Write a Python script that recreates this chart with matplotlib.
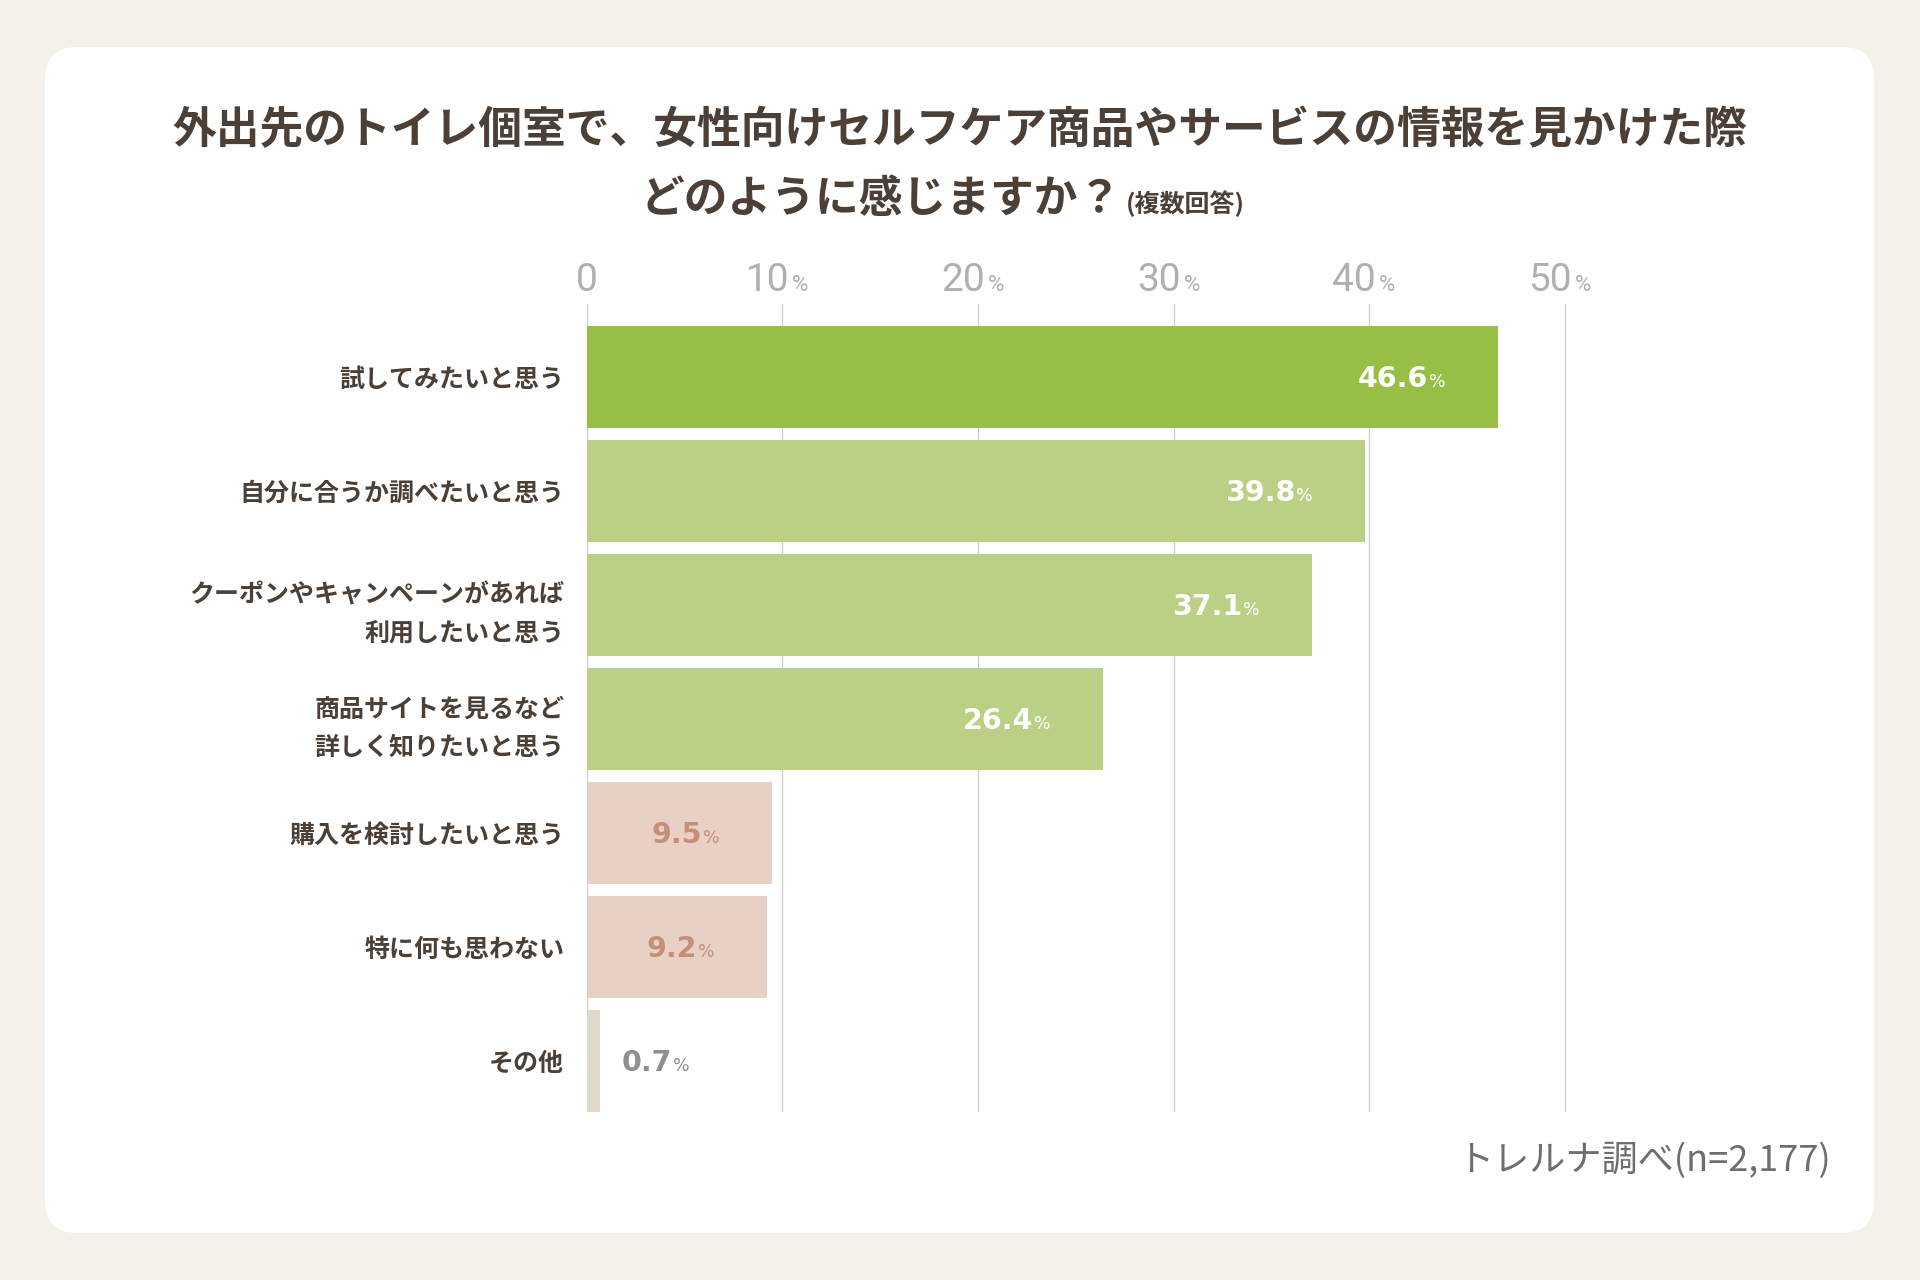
import matplotlib
matplotlib.use('Agg')
import matplotlib.pyplot as plt
from matplotlib.patches import FancyBboxPatch
from matplotlib import transforms

plt.rcParams['font.family'] = ['Noto Sans CJK JP', 'DejaVu Sans']

# ---- data ----
categories = [
    "試してみたいと思う",
    "自分に合うか調べたいと思う",
    "クーポンやキャンペーンがあれば\n利用したいと思う",
    "商品サイトを見るなど\n詳しく知りたいと思う",
    "購入を検討したいと思う",
    "特に何も思わない",
    "その他",
]
values = [46.6, 39.8, 37.1, 26.4, 9.5, 9.2, 0.7]
bar_colors = ['#98bf45', '#bad185', '#bad185', '#bad185', '#e9d0c5', '#e9d0c5', '#e1dacb']
label_colors = ['white', 'white', 'white', 'white', '#c48f78', '#c48f78', '#8f8f8f']
x_ticks = [0, 10, 20, 30, 40, 50]
x_tick_labels = ['0', '10', '20', '30', '40', '50']
title_line1 = "外出先のトイレ個室で、女性向けセルフケア商品やサービスの情報を見かけた際"
title_line2 = "どのように感じますか？"
title_note = "(複数回答)"
source_text = "トレルナ調べ(n=2,177)"

DARK = '#4b3f36'
W, H = 1920, 1280

fig = plt.figure(figsize=(19.2, 12.8), dpi=100)
fig.patch.set_facecolor('#f6f0ea')

# background / layout axes in pixel coordinates
bg = fig.add_axes([0, 0, 1, 1])
bg.set_xlim(0, W)
bg.set_ylim(H, 0)
bg.axis('off')
card = FancyBboxPatch((45, 47), 1829, 1186, boxstyle='round,pad=0,rounding_size=32',
                      fc='white', ec='none')
bg.add_patch(card)

bg.text(960, 130, title_line1, ha='center', va='center', fontsize=31.5,
        fontweight='bold', color=DARK)
bg.text(1122, 212, title_line2, ha='right', va='baseline', fontsize=31.5,
        fontweight='bold', color=DARK)
bg.text(1126, 212, title_note, ha='left', va='baseline', fontsize=18,
        fontweight='bold', color=DARK)
bg.text(1831, 1161, source_text, ha='right', va='center', fontsize=26,
        color='#6e6e6e')

# chart axes
ax = fig.add_axes([586.5 / W, 1 - 1112 / H, 998 / W, 808 / H])
ax.set_facecolor('none')
ax.set_xlim(0, 51)
ax.set_ylim(6.447, -0.640)
ypos = list(range(len(categories)))
ax.barh(ypos, values, height=0.895, color=bar_colors, zorder=2)
ax.set_xticks(x_ticks)
ax.grid(axis='x', color='#cccccc', lw=0.9, zorder=0)
ax.set_axisbelow(True)
ax.tick_params(axis='x', length=0, labelbottom=False)
ax.set_yticks(ypos, categories)
ax.tick_params(axis='y', length=0, pad=16)
for lbl in ax.get_yticklabels():
    lbl.set_fontsize(18)
    lbl.set_fontweight('bold')
    lbl.set_color(DARK)
    lbl.set_linespacing(1.75)
for s in ax.spines.values():
    s.set_visible(False)

# top tick labels
trans = transforms.blended_transform_factory(ax.transData, ax.transAxes)
tick_font = dict(family=['Roboto', 'DejaVu Sans'], fontweight='normal', color='#b0b0b0')
for t, s in zip(x_ticks, x_tick_labels):
    if t == 0:
        ax.annotate(s, xy=(t, 1), xycoords=trans, xytext=(0, 13), textcoords='offset pixels',
                    ha='center', va='baseline', fontsize=28, annotation_clip=False, **tick_font)
    else:
        ax.annotate(s, xy=(t, 1), xycoords=trans, xytext=(7, 13), textcoords='offset pixels',
                    ha='right', va='baseline', fontsize=28, annotation_clip=False, **tick_font)
        ax.annotate('%', xy=(t, 1), xycoords=trans, xytext=(10, 13), textcoords='offset pixels',
                    ha='left', va='baseline', fontsize=16, annotation_clip=False, **tick_font)

# value labels
for i, (v, c) in enumerate(zip(values, label_colors)):
    if v < 5:
        num_dx, pct_dx = 72, 73
    else:
        num_dx, pct_dx = -70, -69
    ax.annotate(f"{v:.1f}", xy=(v, i), xytext=(num_dx, -10), textcoords='offset pixels',
                ha='right', va='baseline', fontsize=20.5, fontweight='bold', color=c,
                family='DejaVu Sans', annotation_clip=False)
    ax.annotate('%', xy=(v, i), xytext=(pct_dx, -10), textcoords='offset pixels',
                ha='left', va='baseline', fontsize=12.5, color=c,
                family='DejaVu Sans', annotation_clip=False)

fig.savefig('out.png', dpi=100, facecolor=fig.get_facecolor())
